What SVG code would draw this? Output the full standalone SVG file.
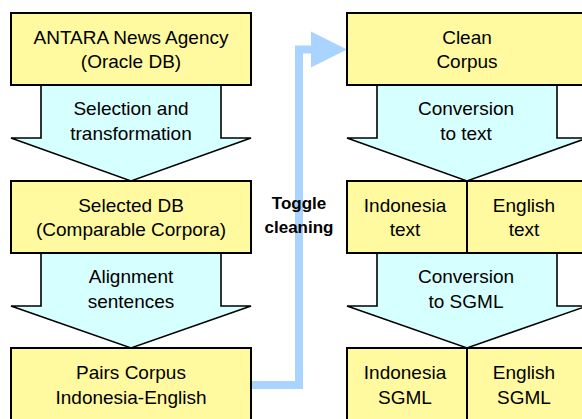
<svg xmlns="http://www.w3.org/2000/svg" width="582" height="419" viewBox="0 0 582 419">
<style>
.box{fill:#fffaa0;stroke:#000;stroke-width:2}
.arr{fill:#d6ffff;stroke:#000;stroke-width:1.6;stroke-linejoin:miter}
.t{font-family:"Liberation Sans",Arial,sans-serif;font-size:19px;fill:#000;text-anchor:middle}
.b{font-family:"Liberation Sans",Arial,sans-serif;font-size:17px;font-weight:bold;fill:#000;text-anchor:middle}
.link{fill:none;stroke:#a8d4ff;stroke-width:8}
</style>
<rect width="582" height="419" fill="#fff"/>
<g id="connectors">
<path class="link" d="M251,385 H299 V49.5 H313"/>
<polygon points="311,31.5 347,49.5 311,67.5" fill="#a8d4ff"/>
<polygon id="arrow1" class="arr" points="41,85 221,85 221,138 251,138 131,181 11,138 41,138"/>
<polygon id="arrow2" class="arr" points="41,253 221,253 221,306 251,306 131,348 11,306 41,306"/>
<polygon id="arrow3" class="arr" points="377,85 557,85 557,138 587,138 467,181 347,138 377,138"/>
<polygon id="arrow4" class="arr" points="377,253 557,253 557,306 587,306 467,348 347,306 377,306"/>
</g>
<g id="n1"><rect class="box" x="11" y="13" width="240" height="72"/>
<text class="t" x="131" y="43.5">ANTARA News Agency</text><text class="t" x="131" y="68">(Oracle DB)</text></g>
<g id="n2"><rect class="box" x="11" y="181" width="240" height="72"/>
<text class="t" x="131" y="211.5">Selected DB</text><text class="t" x="131" y="236">(Comparable Corpora)</text></g>
<g id="n3"><rect class="box" x="11" y="348" width="240" height="80"/>
<text class="t" x="131" y="379">Pairs Corpus</text><text class="t" x="131" y="403.5">Indonesia-English</text></g>
<g id="n4"><rect class="box" x="347" y="13" width="240" height="72"/>
<text class="t" x="467" y="43.5">Clean</text><text class="t" x="467" y="68">Corpus</text></g>
<g id="n5"><rect class="box" x="347" y="181" width="120" height="72"/>
<text class="t" x="405" y="211.5">Indonesia</text><text class="t" x="405" y="236">text</text></g>
<g id="n6"><rect class="box" x="467" y="181" width="120" height="72"/>
<text class="t" x="524" y="211.5">English</text><text class="t" x="524" y="236">text</text></g>
<g id="n7"><rect class="box" x="347" y="348" width="120" height="80"/>
<text class="t" x="405" y="379">Indonesia</text><text class="t" x="405" y="403.5">SGML</text></g>
<g id="n8"><rect class="box" x="467" y="348" width="120" height="80"/>
<text class="t" x="524" y="379">English</text><text class="t" x="524" y="403.5">SGML</text></g>
<g id="arrow-labels">
<text class="t" x="131" y="115">Selection and</text><text class="t" x="131" y="140">transformation</text>
<text class="t" x="131" y="283">Alignment</text><text class="t" x="131" y="308">sentences</text>
<text class="t" x="466" y="115">Conversion</text><text class="t" x="466" y="140">to text</text>
<text class="t" x="466" y="283">Conversion</text><text class="t" x="466" y="308">to SGML</text>
</g>
<g id="label-toggle">
<text class="b" x="299" y="209">Toggle</text><text class="b" x="299" y="233">cleaning</text>
</g>
</svg>
